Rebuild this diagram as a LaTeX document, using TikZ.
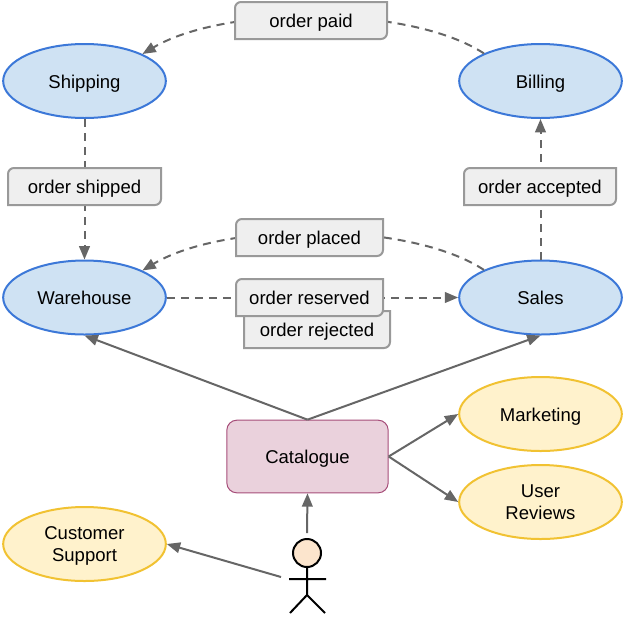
\documentclass[tikz,border=0pt]{standalone}
\usepackage{fontspec}
\setmainfont{Liberation Sans}
\usetikzlibrary{arrows.meta,shapes.geometric}
\definecolor{ln}{HTML}{666666}
\definecolor{bluel}{HTML}{3C78D8}
\definecolor{bluef}{HTML}{CFE2F3}
\definecolor{yell}{HTML}{F1C232}
\definecolor{yelf}{HTML}{FFF2CC}
\definecolor{tagl}{HTML}{999999}
\definecolor{tagf}{HTML}{EFEFEF}
\tikzset{
  x=0.75pt,y=-0.75pt,
  every node/.style={font=\fontsize{13.9pt}{16.5pt}\selectfont,align=center,inner sep=0pt,text=black,
    execute at begin node={\rule[-4pt]{0pt}{18.5pt}}},
  twolines/.style={execute at begin node={}},
  oval/.style={ellipse,draw,line width=1.5pt,minimum width=122pt,minimum height=55.5pt},
  blueoval/.style={oval,draw=bluel,fill=bluef},
  yellowoval/.style={oval,draw=yell,fill=yelf},
  conn/.style={draw=ln,line width=1.5pt,-{Triangle[length=10pt,width=8pt]}},
  dconn/.style={conn,dash pattern=on 6pt off 4.5pt},
  tagshape/.style={draw=tagl,fill=tagf,line width=1.5pt},
  actorline/.style={draw=black,line width=1.5pt}
}
\newcommand{\tagbox}[6]{%
  \draw[tagshape] (#2,#3+6) .. controls (#2,#3+2.7) and (#2+2.7,#3) .. (#2+6,#3) -- (#4,#3) -- (#4,#5-6) .. controls (#4,#5-2.7) and (#4-2.7,#5) .. (#4-6,#5) -- (#2,#5) -- cycle;
  \node (#1) at ({(#2+#4)/2},{(#3+#5)/2}) {#6};}
\begin{document}
\begin{tikzpicture}
\useasboundingbox (0,0) rectangle (624,622);
% ovals
\node[blueoval] (shipping) at (84.5,81) {Shipping};
\node[blueoval] (billing) at (540.5,81) {Billing};
\node[blueoval] (warehouse) at (84.5,297.5) {Warehouse};
\node[blueoval] (sales) at (540.5,297.5) {Sales};
\node[yellowoval] (marketing) at (540.5,414) {Marketing};
\node[yellowoval,twolines] (reviews) at (540.5,502) {\rule{0pt}{13pt}User\\\rule[-4pt]{0pt}{4pt}Reviews};
\node[yellowoval,twolines] (support) at (84.5,544) {\rule{0pt}{13pt}Customer\\\rule[-4pt]{0pt}{4pt}Support};
\node[draw={rgb,255:red,166;green,77;blue,121},fill={rgb,255:red,234;green,209;blue,220},line width=0.75pt,rounded corners=7.5pt,minimum width=121pt,minimum height=54.5pt] (catalogue) at (307.5,456.5) {Catalogue};
% actor
\node[circle,draw=black,line width=1.5pt,fill={rgb,255:red,252;green,229;blue,205},minimum size=21pt] (head) at (307,553) {};
\coordinate (hip) at (307,595);
\coordinate (armL) at (289,579);
\coordinate (armR) at (326,579);
\coordinate (legL) at (290,613);
\coordinate (legR) at (325,613);
\coordinate (actorTop) at (307,533);
\coordinate (actorSide) at (281,577);
\draw[actorline] (head.south) -- (hip) (armL) -- (armR) (legL) -- (hip) -- (legR);
% connectors
\draw[dconn] (billing.154) .. controls (410,5) and (225,5) .. (shipping.25);
\draw[dconn] (sales.154) .. controls (410,221) and (225,221) .. (warehouse.25);
\draw[dconn] (shipping.south) -- (warehouse.north);
\draw[dconn] (sales.north) -- (billing.south);
\draw[dconn] (warehouse.east) -- (sales.west);
\draw[conn] (catalogue.north) -- (warehouse.south);
\draw[conn] (catalogue.north) -- (sales.south);
\draw[conn] (catalogue.east) -- (marketing.west);
\draw[conn] (catalogue.east) -- (reviews.west);
\draw[conn] (actorTop) -- (catalogue.south);
\draw[conn] (actorSide) -- (support.east);
% tags
\tagbox{paid}{235}{2}{387}{39}{order paid}
\tagbox{shipped}{8}{168}{161}{205}{order shipped}
\tagbox{accepted}{464}{168}{616}{205}{order accepted}
\tagbox{placed}{236}{219}{383}{256}{order placed}
\tagbox{rejected}{244}{311}{390}{348}{order rejected}
\tagbox{reserved}{236}{279}{383}{316}{order reserved}
\end{tikzpicture}
\end{document}
